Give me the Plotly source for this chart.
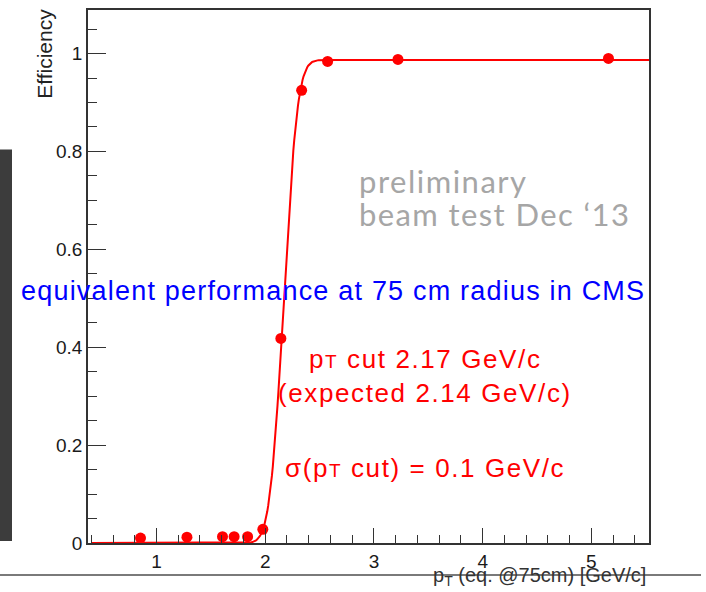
import math
import numpy as np
import plotly.graph_objects as go

# Measured efficiency vs. equivalent pT at 75 cm radius
pt_points = [0.853, 1.28, 1.607, 1.714, 1.838, 1.978, 2.144, 2.335, 2.574, 3.221, 5.157]
eff_points = [0.010, 0.012, 0.013, 0.013, 0.013, 0.028, 0.418, 0.925, 0.984, 0.988, 0.990]

# Error-function fit parameters (turn-on point and width)
fit_cut = 2.17
fit_sigma = 0.1
fit_plateau = 0.987

x_range = [0.37, 5.53]
y_range = [0.0, 1.089]

W, H = 706, 592
M_L, M_R, M_T, M_B = 88, 57, 8, 49
PLOT_W = W - M_L - M_R
PLOT_H = H - M_T - M_B


def px(x):
    return (x - M_L) / PLOT_W


def py(y):
    return (H - M_B - y) / PLOT_H


def spaced(text, spacing):
    return '<span style="letter-spacing:%spx">%s</span>' % (spacing, text)


fit_x = np.linspace(0.40, x_range[1], 600)
fit_y = [fit_plateau * 0.5 * (1 + math.erf((v - fit_cut) / (math.sqrt(2) * fit_sigma))) for v in fit_x]

fig = go.Figure()
fig.add_trace(go.Scatter(x=fit_x, y=fit_y, mode="lines",
                         line=dict(color="#ff0000", width=2), hoverinfo="skip"))
fig.add_trace(go.Scatter(x=pt_points, y=eff_points, mode="markers",
                         marker=dict(color="#ff0000", size=11)))

axis_font = dict(family="Liberation Sans, Arial, sans-serif", size=19, color="#1a1a1a")
frame_color = "#333333"

fig.update_xaxes(range=x_range, showgrid=False, zeroline=False,
                 showline=True, linecolor=frame_color, linewidth=1.5, mirror=True,
                 ticks="inside", ticklen=15, tickwidth=1.2, tickcolor=frame_color,
                 dtick=1, tick0=0, tickfont=axis_font,
                 minor=dict(dtick=0.2, tick0=0, ticks="inside", ticklen=8,
                            tickwidth=1.2, tickcolor=frame_color, showgrid=False))
fig.update_yaxes(range=y_range, showgrid=False, zeroline=False,
                 showline=True, linecolor=frame_color, linewidth=1.5, mirror=True,
                 ticks="inside", ticklen=18, tickwidth=1.2, tickcolor=frame_color,
                 dtick=0.2, tick0=0, tickfont=axis_font,
                 minor=dict(dtick=0.05, tick0=0, ticks="inside", ticklen=9,
                            tickwidth=1.2, tickcolor=frame_color, showgrid=False))

shapes = [
    # dark side bar of the slide
    dict(type="rect", xref="paper", yref="paper", x0=px(0), x1=px(12), y0=py(541), y1=py(148),
         fillcolor="#3c3c3c", line=dict(width=0), layer="below"),
    # slide rule under the chart
    dict(type="line", xref="paper", yref="paper", x0=px(0), x1=px(701), y0=py(575), y1=py(575),
         line=dict(color="#7a7a7a", width=2), layer="above"),
]

gray = "#a6a6a6"
red = "#ff0000"
blue = "#0000ff"
sans = "Liberation Sans, Arial, sans-serif"
soft = "Lato, Open Sans, sans-serif"
small_t = '<span style="font-size:19px">T</span>'

annotations = [
    dict(text=spaced("preliminary", 1.5), x=px(357), y=py(180), xanchor="left", yanchor="middle",
         font=dict(family=soft, size=31, color=gray)),
    dict(text=spaced("beam test Dec \u201813", 1.4), x=px(357), y=py(213), xanchor="left",
         yanchor="middle", font=dict(family=soft, size=31, color=gray)),
    dict(text=spaced("equivalent performance at 75 cm radius in CMS", 1.2), x=px(333), y=py(290),
         xanchor="center", yanchor="middle", font=dict(family=sans, size=27, color=blue)),
    dict(text=spaced("p" + small_t + " cut 2.17 GeV/c", 1.6), x=px(425), y=py(358),
         xanchor="center", yanchor="middle", font=dict(family=sans, size=26, color=red)),
    dict(text=spaced("(expected 2.14 GeV/c)", 1.6), x=px(425), y=py(392),
         xanchor="center", yanchor="middle", font=dict(family=sans, size=26, color=red)),
    dict(text=spaced("\u03c3(p" + small_t + " cut) = 0.1 GeV/c", 1.6), x=px(425), y=py(468),
         xanchor="center", yanchor="middle", font=dict(family=sans, size=26, color=red)),
    dict(text="p<sub>T</sub> (eq. @75cm) [GeV/c]", x=px(648), y=py(577),
         xanchor="right", yanchor="middle", font=dict(family=sans, size=20, color="#333333")),
    dict(text="Efficiency", x=px(45), y=py(52), textangle=-90,
         xanchor="center", yanchor="middle", font=dict(family=sans, size=21, color="#222222")),
]
for a in annotations:
    a.update(xref="paper", yref="paper", showarrow=False)

fig.update_layout(width=W, height=H, margin=dict(l=M_L, r=M_R, t=M_T, b=M_B),
                  plot_bgcolor="white", paper_bgcolor="white", showlegend=False,
                  shapes=shapes, annotations=annotations)

fig.write_html("out.html")
